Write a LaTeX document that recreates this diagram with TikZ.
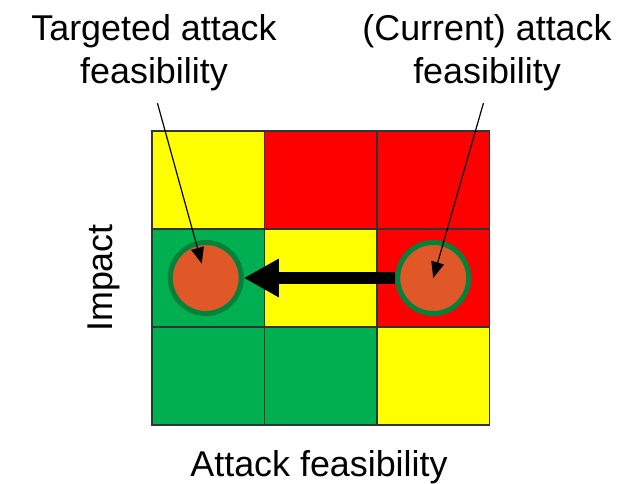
\documentclass[tikz,border=0pt]{standalone}
\usepackage{fontspec}
\setmainfont{Liberation Sans}
\usetikzlibrary{positioning}
\usetikzlibrary{arrows.meta}
\definecolor{myyellow}{RGB}{255,255,0}
\definecolor{myred}{RGB}{255,0,0}
\definecolor{mygreen}{RGB}{0,176,80}
\definecolor{mydarkgreen}{RGB}{0,130,58}
\definecolor{myorange}{RGB}{224,88,40}
\newcommand{\widthcell}{112.5bp}
\newcommand{\heightcell}{98bp}
\tikzset{
    cell/.style={draw=black!80, line width=1.5bp, rectangle, inner sep=0pt, outer sep=0pt, minimum width=\widthcell, minimum height=\heightcell},
    low/.style={cell, fill=mygreen},
    medium/.style={cell, fill=myyellow},
    high/.style={cell, fill=myred},
    rating/.style={draw=mydarkgreen, fill=myorange, line width=5bp, circle, inner sep=0pt, minimum size=71bp},
    caption/.style={align=center, inner sep=0pt, font=\fontsize{36}{43}\selectfont},
    pointer/.style={draw, line width=1.2bp, -{Triangle[length=16bp, width=13bp]}},
    move/.style={draw, line width=12bp, -{Triangle[length=35bp, width=36bp]}},
}

\begin{document}
\begin{tikzpicture}[x=1bp, y=-1bp]
    \useasboundingbox (0,0) rectangle (636,484);
    % risk matrix
    \node[medium] (c11) at (208.25,180) {};
    \node[high, right=0pt of c11] (c12) {};
    \node[high, right=0pt of c12] (c13) {};
    \node[low, below=0pt of c11] (c21) {};
    \node[medium, right=0pt of c21] (c22) {};
    \node[high, right=0pt of c22] (c23) {};
    \node[low, below=0pt of c21] (c31) {};
    \node[low, right=0pt of c31] (c32) {};
    \node[medium, right=0pt of c32] (c33) {};
    % ratings
    \node[rating, xshift=-2.5bp] (target) at (c21.center) {};
    \node[rating] (current) at (c23.center) {};
    \draw[move] (current) -- (target);
    % texts
    \node[caption, anchor=north] (targettext) at (154,14) {Targeted attack\\feasibility};
    \node[caption, anchor=north] (currenttext) at (487,14) {(Current) attack\\feasibility};
    \node[caption, anchor=north] (xlabel) at (319,450) {Attack feasibility};
    \node[caption, rotate=90] (ylabel) at (104,278) {Impact};
    \draw[pointer, shorten <=13bp, shorten >=15bp] (targettext.south) -- (target.center);
    \draw[pointer, shorten <=13bp] (currenttext.south) -- (current.center);
\end{tikzpicture}
\end{document}
